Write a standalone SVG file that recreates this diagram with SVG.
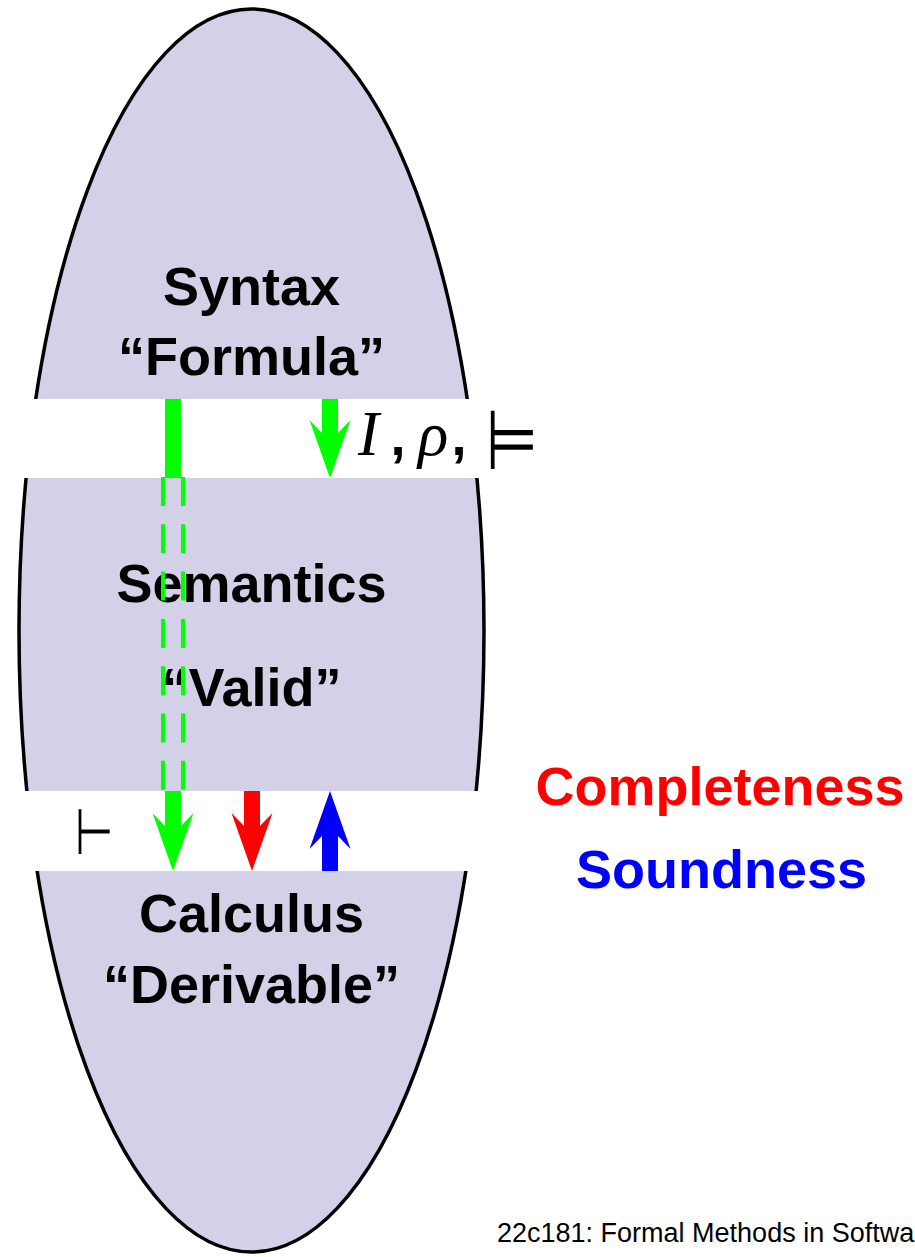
<svg xmlns="http://www.w3.org/2000/svg" width="915" height="1257" viewBox="0 0 915 1257">
<style>
.lbl{font-family:"Liberation Sans",Arial,sans-serif;font-weight:bold;font-size:54px;text-anchor:middle;fill:#000}
.math{font-family:"Liberation Serif","Times New Roman",serif;font-style:italic;font-size:63px;fill:#000}
.sym{font-family:"DejaVu Sans",sans-serif;fill:#000}
.band{fill:#fff}
.dash{stroke:#00ff00;stroke-width:4;stroke-dasharray:29 18.3;fill:none}
</style>
<rect width="915" height="1257" fill="#fff"/>
<g id="sphere">
<ellipse cx="251.5" cy="630.5" rx="232.5" ry="621.5" fill="#d3d1e7" stroke="#000" stroke-width="3.5"/>
<rect class="band" x="0" y="399" width="545" height="79"/>
<rect class="band" x="0" y="791" width="545" height="80"/>
</g>
<g id="syntax">
<text class="lbl" x="251.5" y="305">Syntax</text>
<text class="lbl" x="251.5" y="375">“Formula”</text>
</g>
<g id="semantics">
<text class="lbl" x="251.5" y="602">Semantics</text>
<text class="lbl" x="251.5" y="706">“Valid”</text>
</g>
<g id="calculus">
<text class="lbl" x="251.5" y="932">Calculus</text>
<text class="lbl" x="251.5" y="1003">“Derivable”</text>
</g>
<g id="legend">
<text class="lbl" x="720" y="805" style="fill:#ff0000">Completeness</text>
<text class="lbl" x="721.5" y="888" style="fill:#0000ff">Soundness</text>
</g>
<g id="interp-label">
<text class="math" x="358" y="455">I</text>
<text class="lbl" x="398" y="455">,</text>
<text class="math" x="418" y="455">ρ</text>
<text class="lbl" x="459" y="455">,</text>
<g transform="translate(485.8,469.3) scale(0.75,1.04)"><text class="sym" x="0" y="0" font-size="80">⊨</text></g>
</g>
<g id="derive-label">
<g transform="translate(74.9,854.2) scale(0.853,1.23)"><text class="sym" x="0" y="0" font-size="52">⊢</text></g>
</g>
<g id="footer">
<text x="497" y="1242" font-family="Liberation Sans, Arial, sans-serif" font-size="27" fill="#000">22c181: Formal Methods in Softwa</text>
</g>
<g id="connectors">
<rect x="165" y="399" width="16" height="79" fill="#00ff00"/>
<line class="dash" x1="163" y1="477" x2="163" y2="791"/>
<line class="dash" x1="183" y1="477" x2="183" y2="791"/>
<polygon fill="#00ff00" points="322,399 338,399 338,433 350.5,420 330,478 309.5,420 322,433"/>
<polygon fill="#00ff00" points="165,791 181,791 181,826 193.5,813 173,871 152.5,813 165,826"/>
<polygon fill="#ff0000" points="244,791 260,791 260,826 272.5,813 252,871 231.5,813 244,826"/>
<polygon fill="#0000ff" points="322,871 338,871 338,836 350.5,849 330,791 309.5,849 322,836"/>
</g>
</svg>
